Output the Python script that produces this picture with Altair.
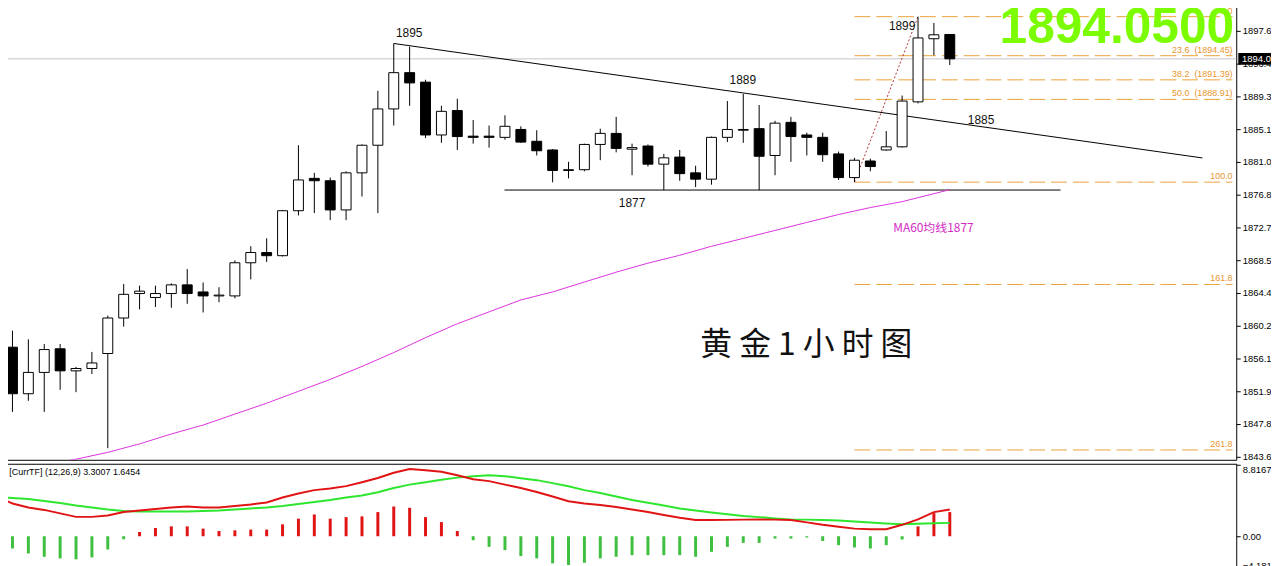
import altair as alt
import pandas as pd

# ---------------- data ----------------
candle_index = list(range(60))
open_ = [1857.5, 1851.6, 1854.3, 1857.3, 1854.5, 1854.8, 1856.7, 1861.2, 1864.3, 1863.8,
         1864.3, 1865.4, 1864.5, 1864.0, 1864.0, 1868.2, 1869.5, 1869.1, 1874.8, 1878.9,
         1878.6, 1874.9, 1879.6, 1883.1, 1887.7, 1892.3, 1891.1, 1884.4, 1887.5, 1884.25,
         1884.25, 1884.1, 1885.1, 1883.6, 1882.5, 1879.9, 1880.0, 1883.2, 1884.6, 1882.6,
         1883.0, 1880.7, 1881.6, 1879.6, 1878.8, 1884.1, 1885.0, 1885.2, 1881.8, 1886.0,
         1884.4, 1884.1, 1882.0, 1879.0, 1881.1, 1882.5, 1882.9, 1888.6, 1896.6, 1897.14]
high = [1859.6, 1858.5, 1857.9, 1857.9, 1855.0, 1856.9, 1861.5, 1865.5, 1865.3, 1865.3,
        1865.6, 1867.4, 1865.7, 1865.1, 1868.5, 1870.3, 1871.3, 1874.9, 1883.1, 1879.6,
        1879.0, 1879.8, 1883.2, 1890.0, 1896.0, 1895.6, 1891.4, 1888.1, 1889.0, 1886.3,
        1885.6, 1886.9, 1885.5, 1885.0, 1882.6, 1881.0, 1883.3, 1885.2, 1886.7, 1883.3,
        1883.2, 1882.0, 1882.5, 1880.5, 1884.2, 1888.7, 1889.6, 1888.2, 1886.2, 1886.7,
        1884.7, 1884.7, 1882.3, 1881.5, 1881.4, 1884.9, 1889.4, 1899.4, 1898.6, 1897.14]
low = [1849.3, 1850.7, 1849.3, 1852.1, 1851.8, 1854.1, 1844.7, 1860.1, 1862.3, 1862.6,
       1862.5, 1863.0, 1861.9, 1863.2, 1863.7, 1866.1, 1868.3, 1869.0, 1874.2, 1874.5,
       1873.6, 1873.6, 1876.6, 1874.5, 1885.6, 1888.1, 1884.0, 1883.4, 1882.5, 1883.3,
       1882.8, 1883.8, 1883.4, 1881.8, 1878.4, 1878.9, 1879.8, 1881.2, 1882.2, 1879.3,
       1880.4, 1877.4, 1878.6, 1877.8, 1878.1, 1883.5, 1883.4, 1877.4, 1879.3, 1881.0,
       1881.8, 1881.0, 1878.7, 1878.42, 1879.8, 1882.4, 1882.8, 1888.4, 1894.5, 1893.27]
close = [1851.6, 1854.3, 1857.2, 1854.5, 1854.8, 1855.5, 1861.2, 1864.2, 1864.6, 1864.3,
         1865.4, 1864.3, 1864.0, 1864.1, 1868.2, 1869.5, 1869.1, 1874.8, 1878.7, 1878.6,
         1874.9, 1879.6, 1883.1, 1887.7, 1892.3, 1891.0, 1884.4, 1887.4, 1884.2, 1884.1,
         1884.1, 1885.5, 1883.5, 1882.4, 1879.9, 1880.0, 1883.2, 1884.6, 1882.7, 1882.8,
         1880.7, 1881.5, 1879.5, 1878.8, 1884.1, 1885.1, 1885.1, 1881.7, 1885.9, 1884.2,
         1884.1, 1881.9, 1879.0, 1881.2, 1880.4, 1882.9, 1888.7, 1896.7, 1897.1, 1894.05]

ma_index = [2, 4, 6, 8, 10, 12, 14, 16, 18, 20, 22, 24, 26, 28, 30, 32, 34, 36, 38, 40,
            42, 44, 46, 48, 50, 52, 54, 56, 58, 59]
ma60 = [1842.6, 1843.3, 1844.17, 1845.24, 1846.5, 1847.63, 1849.02, 1850.4, 1851.91, 1853.42,
        1855.06, 1856.82, 1858.71, 1860.47, 1861.98, 1863.49, 1864.5, 1865.76, 1867.01, 1868.15,
        1869.15, 1870.29, 1871.29, 1872.3, 1873.31, 1874.32, 1875.2, 1875.95, 1876.96, 1877.46]

macd_index = list(range(-1, 60))
macd_main = [4.90, 4.04, 3.55, 3.25, 2.82, 2.39, 2.39, 2.57, 3.00, 3.18, 3.37,
             3.55, 3.67, 3.55, 3.55, 3.74, 3.92, 4.16, 4.78, 5.27, 5.69,
             5.88, 6.18, 6.67, 7.19, 7.84, 8.29, 8.14, 7.96, 7.53, 7.04,
             6.80, 6.37, 5.94, 5.45, 4.90, 4.32, 4.04, 3.86, 3.61, 3.31,
             3.00, 2.63, 2.27, 2.00, 2.00, 2.02, 2.05, 2.08, 2.05, 2.00,
             1.71, 1.41, 1.16, 0.94, 0.86, 0.86, 1.41, 2.08, 2.98, 3.30]
macd_signal = [4.84, 4.71, 4.59, 4.35, 4.10, 3.80, 3.55, 3.31, 3.12, 3.06, 3.06,
               3.06, 3.06, 3.12, 3.18, 3.31, 3.43, 3.55, 3.74, 3.98, 4.22,
               4.47, 4.78, 5.02, 5.42, 5.94, 6.37, 6.67, 6.98, 7.23, 7.41,
               7.51, 7.41, 7.16, 6.92, 6.55, 6.16, 5.69, 5.33, 4.90, 4.47,
               4.14, 3.80, 3.43, 3.18, 2.94, 2.72, 2.51, 2.36, 2.20, 2.08,
               2.05, 2.00, 1.93, 1.81, 1.69, 1.56, 1.47, 1.53, 1.59, 1.65]
macd_hist = [-1.51, -2.12, -2.53, -2.73, -2.85, -2.61, -1.63, -0.37, 0.53, 1.02,
             1.22, 1.22, 0.94, 0.65, 0.73, 0.82, 0.82, 1.47, 2.17, 2.69,
             2.17, 2.36, 2.45, 2.98, 3.67, 3.51, 2.36, 1.75, 0.65, -0.49,
             -1.31, -1.71, -2.45, -2.73, -3.34, -3.55, -3.27, -2.73, -2.53, -2.33,
             -2.33, -2.33, -2.33, -2.53, -1.92, -1.31, -0.82, -0.82, -0.28, -0.28,
             -0.16, -0.58, -1.10, -1.38, -1.51, -1.10, -0.40, 1.22, 2.85, 2.98]

fib_levels = ["0.0", "23.6\u00a0 (1894.45)", "38.2\u00a0 (1891.39)", "50.0\u00a0 (1888.91)",
              "100.0", "161.8", "261.8"]
fib_prices = [1899.40, 1894.45, 1891.39, 1888.91, 1878.42, 1865.45, 1844.47]
fib_from, fib_to = 53, 76.8

price_ticks = [1843.6, 1847.8, 1851.9, 1856.1, 1860.2, 1864.4, 1868.5, 1872.7, 1876.8,
               1881.0, 1885.1, 1889.3, 1893.45, 1897.6]
macd_ticks = [8.8167, 0.0, -4.1814]
last_price = 1894.05
support_price = 1877.42
trend_start = (24, 1896.0)
trend_end = (74.9, 1881.49)

# ---------------- styles ----------------
ORANGE = "#eba23c"
ORANGE_TXT = "#e8952c"
MAGENTA = "#dd33dd"
RED = "#e01414"
GREEN_LINE = "#2ee62e"
GREEN_BAR = "#3fbf3f"
FONT = "Liberation Sans"

xs = alt.Scale(domain=[-0.71875, 77.03125], nice=False, zero=False)
ys_main = alt.Scale(domain=[1843.226, 1901.25], nice=False, zero=False)
ys_macd = alt.Scale(domain=[-4.286, 8.94], nice=False, zero=False)

xax_main = alt.Axis(orient="bottom", title=None, labels=False, ticks=False, grid=False,
                    domain=True, domainColor="#000000", domainWidth=1)
xax_macd = alt.Axis(orient="top", title=None, labels=False, ticks=False, grid=False,
                    domain=True, domainColor="#000000", domainWidth=1)
yax_main = alt.Axis(orient="right", title=None, values=price_ticks,
                    labelExpr="format(datum.value, '.2f')", grid=False,
                    domainColor="#000000", tickColor="#000000", tickSize=4, labelPadding=2,
                    labelFont=FONT, labelFontSize=9.5, labelColor="#000000",
                    labelOverlap=False, zindex=0)
yax_macd = alt.Axis(orient="right", title=None, values=macd_ticks,
                    labelExpr="datum.value == 0 ? '0.00' : format(datum.value, '.4f')",
                    labelBaseline={"condition": [{"test": "datum.value > 5", "value": "top"},
                                                 {"test": "datum.value < -3", "value": "bottom"}],
                                   "value": "middle"},
                    grid=False, domainColor="#000000", tickColor="#000000", tickSize=4,
                    labelPadding=2, labelFont=FONT, labelFontSize=9.5, labelColor="#000000",
                    labelOverlap=False, zindex=0)


def mx(f):
    return alt.X(f, type="quantitative", scale=xs, axis=xax_main)


def my(f):
    return alt.Y(f, type="quantitative", scale=ys_main, axis=yax_main)


def gx(f):
    return alt.X(f, type="quantitative", scale=xs, axis=xax_macd)


def gy(f):
    return alt.Y(f, type="quantitative", scale=ys_macd, axis=yax_macd)


candles = pd.DataFrame({"i": candle_index, "o": open_, "h": high, "l": low, "c": close})
ma_df = pd.DataFrame({"i": ma_index, "v": ma60})
fib_df = pd.DataFrame({"p": fib_prices, "label": fib_levels,
                       "x0": [fib_from] * len(fib_prices), "x1": [fib_to] * len(fib_prices)})

price_line = alt.Chart(pd.DataFrame({"p": [last_price]})).mark_rule(
    color="#c4c4cc", strokeWidth=1).encode(y=my("p"))

fib_lines = alt.Chart(fib_df).mark_rule(color=ORANGE, strokeWidth=1, strokeDash=[16, 6]).encode(
    x=mx("x0"), x2="x1", y=my("p"))
fib_text = alt.Chart(fib_df).mark_text(align="right", baseline="bottom", dy=-1, fontSize=9,
                                       font=FONT, color=ORANGE_TXT, clip=True).encode(
    x=mx("x1"), y=my("p"), text="label")

support = alt.Chart(pd.DataFrame({"x0": [30.97], "x1": [65.97], "p": [support_price]})).mark_rule(
    color="#000000", strokeWidth=1).encode(x=mx("x0"), x2="x1", y=my("p"))

trend = alt.Chart(pd.DataFrame({"x0": [trend_start[0]], "p0": [trend_start[1]],
                                "x1": [trend_end[0]], "p1": [trend_end[1]]})).mark_rule(
    color="#000000", strokeWidth=1).encode(x=mx("x0"), x2="x1", y=my("p0"), y2="p1")

fib_diag = alt.Chart(pd.DataFrame({"x0": [fib_from], "p0": [low[fib_from]],
                                   "x1": [57], "p1": [high[57]]})).mark_rule(
    color="#b03030", strokeWidth=1, strokeDash=[2, 2]).encode(
    x=mx("x0"), x2="x1", y=my("p0"), y2="p1")

ma_line = alt.Chart(ma_df).mark_line(color=MAGENTA, strokeWidth=1, clip=True).encode(
    x=mx("i"), y=my("v"))

wicks = alt.Chart(candles).mark_rule(color="#000000", strokeWidth=1).encode(
    x=mx("i"), y=my("l"), y2="h")

bodies = alt.Chart(candles).transform_calculate(
    x0="datum.i - 0.3125", x1="datum.i + 0.3125").mark_rect(
    stroke="#000000", strokeWidth=1).encode(
    x=mx("x0"), x2="x1", y=my("o"), y2="c",
    fill=alt.condition("datum.c >= datum.o", alt.value("#ffffff"), alt.value("#000000")))

ann = pd.DataFrame({"i": [24.97, 45.97, 39.0, 60.97, 56.0],
                    "p": [1897.31, 1891.31, 1875.83, 1886.34, 1898.23],
                    "t": ["1895", "1889", "1877", "1885", "1899"]})
ann_text = alt.Chart(ann).mark_text(fontSize=12, font=FONT, color="#111111",
                                    baseline="middle", clip=True).encode(
    x=mx("i"), y=my("p"), text="t")

ma_text = alt.Chart(pd.DataFrame({"i": [57.97], "p": [1872.55], "t": ["MA60均线1877"]})).mark_text(
    fontSize=12, font="Noto Sans CJK SC", color="#d42ac4", baseline="middle").encode(
    x=mx("i"), y=my("p"), text="t")

title_text = alt.Chart(pd.DataFrame({"i": [49.97], "p": [1857.83], "t": ["黄 金 1 小 时 图"]})).mark_text(
    fontSize=32, font="Noto Sans CJK SC", color="#111111", baseline="middle").encode(
    x=mx("i"), y=my("p"), text="t")

big_price = alt.Chart(pd.DataFrame({"i": [76.9], "p": [1896.09], "t": ["1894.0500"]})).mark_text(
    fontSize=50, font=FONT, fontWeight="bold", color="#7cfc00", align="right",
    baseline="alphabetic", clip=True).encode(x=mx("i"), y=my("p"), text="t")

ohlc_text = alt.Chart(pd.DataFrame({"i": [0.53], "p": [1900.75],
                                    "t": ["1897.14 1897.14 1893.27 1894.05"]})).mark_text(
    fontSize=8.5, font=FONT, color="#000000", align="left", baseline="alphabetic",
    clip=True).encode(x=mx("i"), y=my("p"), text="t")

tag_df = pd.DataFrame({"x0": [77.16], "x1": [80.53], "p0": [last_price - 0.75],
                       "p1": [last_price + 0.75], "tx": [77.4], "p": [last_price],
                       "t": ["1894.05"]})
tag_box = alt.Chart(tag_df).mark_rect(color="#000000").encode(
    x=mx("x0"), x2="x1", y=my("p0"), y2="p1")
tag_text = alt.Chart(tag_df).mark_text(fontSize=9.5, font=FONT, color="#ffffff", align="left",
                                       baseline="middle").encode(x=mx("tx"), y=my("p"), text="t")

main = alt.layer(price_line, fib_lines, fib_text, support, trend, ma_line, fib_diag, wicks,
                 bodies, ann_text, ma_text, title_text, big_price, ohlc_text, tag_box,
                 tag_text).properties(width=1244, height=461)

# ---------------- MACD panel ----------------
hist_df = pd.DataFrame({"i": candle_index, "v": macd_hist})
line_df = pd.DataFrame({"i": macd_index, "m": macd_main, "s": macd_signal})

hist = alt.Chart(hist_df).transform_calculate(z="0").mark_rule(strokeWidth=3).encode(
    x=gx("i"), y=gy("v"), y2="z",
    color=alt.condition("datum.v > 0", alt.value(RED), alt.value(GREEN_BAR)))
sig_line = alt.Chart(line_df).mark_line(color=GREEN_LINE, strokeWidth=2, clip=True).encode(
    x=gx("i"), y=gy("s"))
main_line = alt.Chart(line_df).mark_line(color=RED, strokeWidth=2, clip=True).encode(
    x=gx("i"), y=gy("m"))
macd_label = alt.Chart(pd.DataFrame({"i": [-0.2], "v": [7.96],
                                     "t": ["[CurrTF] (12,26,9) 3.3007 1.6454"]})).mark_text(
    fontSize=9, font=FONT, color="#000000", align="left", baseline="middle").encode(
    x=gx("i"), y=gy("v"), text="t")

macd = alt.layer(hist, sig_line, main_line, macd_label).properties(width=1244, height=108)

chart = alt.vconcat(main, macd, spacing=2).properties(
    padding={"left": -8, "top": -8, "right": -21, "bottom": 0},
    background="#ffffff").configure_view(stroke=None)

chart.save("out.html", embed_options={"renderer": "svg", "actions": False})
